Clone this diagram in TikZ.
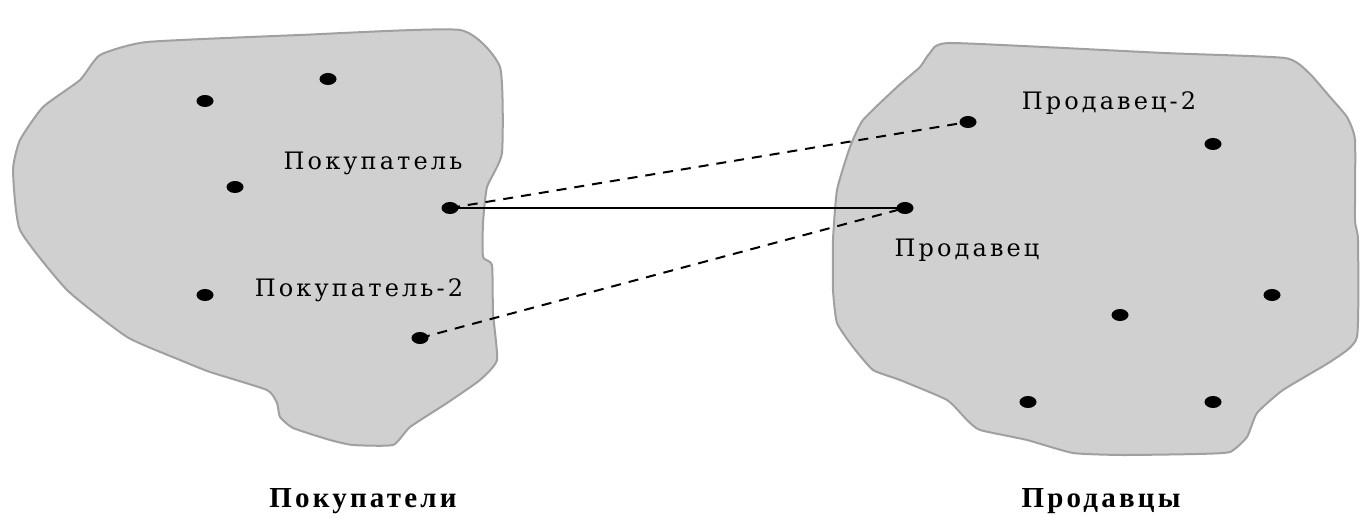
\documentclass[tikz,border=0pt]{standalone}
\usepackage{fontspec}
\setmainfont{Liberation Serif}
\newfontfamily\agentfont{DejaVu Serif}
\usepackage{tikz}
\usepackage{xcolor}
\definecolor{blobgray}{HTML}{D0D0D0}
\definecolor{edgegray}{HTML}{A0A0A0}
\tikzset{
	dot/.style={ellipse,inner sep=0pt,minimum width=8.5pt,minimum height=6pt,fill=black},
	agent/.style={font=\agentfont\addfontfeature{LetterSpace=13}\fontsize{12}{14}\selectfont},
	grouplabel/.style={font=\bfseries\addfontfeature{LetterSpace=11}\fontsize{14.5}{16}\selectfont},
	blob/.style={fill=blobgray,draw=edgegray,line width=1pt},
	deal/.style={line width=1.2pt},
	offer/.style={line width=1pt,dash pattern=on 5pt off 4pt}
}
\usetikzlibrary{shapes.geometric}

\begin{document}
	\begin{tikzpicture}[x=0.5pt,y=-0.5pt]
		\useasboundingbox (0,0) rectangle (1360,518);
		\begin{scope}
			% buyers
			\draw[blob] plot[smooth cycle,tension=0.3] coordinates {(100,55) (147,42) (300,35) (460,30) (500,67) (502,153) (487,187) (483,223) (483,257) (492,265) (493,313) (497,360) (480,380) (447,403) (410,427) (393,445) (353,445) (330,440) (293,428) (280,417) (277,403) (267,390) (210,372) (180,360) (127,337) (67,290) (20,230) (13,170) (20,140) (43,107) (80,80)};
			% sellers
			\draw[blob] plot[smooth cycle,tension=0.3] coordinates {(951,43) (1164,53) (1285,58) (1309,73) (1330,97) (1347,117) (1355,140) (1355,220) (1358,240) (1357,337) (1333,360) (1283,390) (1257,413) (1247,437) (1230,452) (1197,454) (1123,455) (1073,453) (1027,440) (980,430) (967,420) (947,400) (900,380) (873,370) (853,347) (837,323) (833,290) (833,240) (837,190) (850,147) (863,120) (897,87) (920,67) (930,53)};
			\node[dot] (b1) at (205,101) {};
			\node[dot] (b2) at (328,79) {};
			\node[dot] (b3) at (235,187) {};
			\node[dot] (b4) at (205,295) {};
			\node[dot] (b5) at (450,208) {};
			\node[dot] (b6) at (420,338) {};
			\node[dot] (s1) at (968,122) {};
			\node[dot] (s2) at (1213,144) {};
			\node[dot] (s3) at (905,208) {};
			\node[dot] (s4) at (1272,295) {};
			\node[dot] (s5) at (1120,315) {};
			\node[dot] (s6) at (1028,402) {};
			\node[dot] (s7) at (1213,402) {};
			\node[agent] (nb5) at (373,163) {Покупатель};
			\node[agent] (nb6) at (359,290) {Покупатель-2};
			\node[agent] (ns1) at (1109,103) {Продавец-2};
			\node[agent] (ns3) at (967,250) {Продавец};
			\node[grouplabel] (tb) at (363,501) {Покупатели};
			\node[grouplabel] (ts) at (1101,501) {Продавцы};
			\draw[deal] (b5.center) -- (s3.center);
			\draw[offer] (b5.center) -- (s1.center);
			\draw[offer] (b6.center) -- (s3.center);
		\end{scope}
	\end{tikzpicture}
\end{document}
